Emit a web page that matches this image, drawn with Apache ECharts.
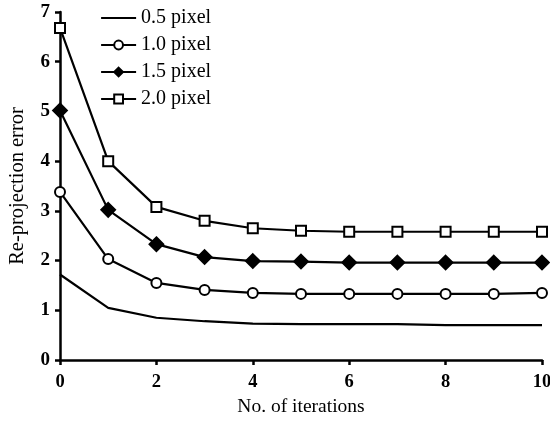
<!DOCTYPE html>
<html>
<head>
<meta charset="utf-8">
<script src="https://cdn.jsdelivr.net/npm/echarts@6/dist/echarts.min.js"></script>
<style>
  html, body { margin: 0; padding: 0; background: #fff; }
  #chart { width: 550px; height: 421px; }
</style>
</head>
<body>
<div id="chart"></div>
<script>
// iterations on the x axis
const iterations = [0, 1, 2, 3, 4, 5, 6, 7, 8, 9, 10];
// re-projection error per noise level
const err05 = [1.72, 1.05, 0.85, 0.78, 0.73, 0.72, 0.72, 0.72, 0.70, 0.70, 0.70];
const err10 = [3.38, 2.03, 1.55, 1.41, 1.35, 1.33, 1.33, 1.33, 1.33, 1.33, 1.35];
const err15 = [5.02, 3.02, 2.33, 2.07, 1.99, 1.98, 1.96, 1.96, 1.96, 1.96, 1.96];
const err20 = [6.68, 4.0, 3.08, 2.8, 2.65, 2.6, 2.58, 2.58, 2.58, 2.58, 2.58];
const legendNames = ["0.5 pixel", "1.0 pixel", "1.5 pixel", "2.0 pixel"];

const font = "Liberation Serif";
const pairs = vals => iterations.map((x, i) => [x, vals[i]]);

function makeSeries(name, vals, symbol, size) {
  return {
    name: name,
    type: "line",
    data: pairs(vals),
    symbol: symbol,
    symbolSize: size,
    showSymbol: symbol !== "none",
    lineStyle: { color: "#000", width: 2.2 },
    itemStyle: { color: "#000", borderColor: "#000", borderWidth: 1.8 },
    emphasis: { disabled: true },
    z: 3
  };
}

const chart = echarts.init(document.getElementById("chart"));
chart.setOption({
  animation: false,
  backgroundColor: "#fff",
  grid: { left: 60, right: 8, top: 12, bottom: 61, outerBoundsMode: "none", containLabel: false },
  legend: {
    orient: "vertical",
    left: 95,
    top: 3,
    itemGap: 7,
    itemWidth: 35,
    itemHeight: 11,
    lineStyle: { width: 2.2, color: "#000" },
    data: [
      { name: legendNames[0], itemStyle: { opacity: 0 } },
      legendNames[1],
      legendNames[2],
      legendNames[3]
    ],
    textStyle: { fontFamily: font, fontSize: 20, color: "#000" }
  },
  xAxis: {
    type: "value",
    min: 0,
    max: 10,
    interval: 2,
    name: "No. of iterations",
    nameLocation: "middle",
    nameGap: 37,
    nameTextStyle: { fontFamily: font, fontSize: 19.5, color: "#000" },
    axisLine: { lineStyle: { color: "#000", width: 2.5 } },
    axisTick: { length: 5, lineStyle: { color: "#000", width: 2.5 } },
    axisLabel: { fontFamily: font, fontSize: 18.5, fontWeight: "bold", color: "#000", margin: 13 },
    splitLine: { show: false }
  },
  yAxis: {
    type: "value",
    min: 0,
    max: 7,
    interval: 1,
    name: "Re-projection error",
    nameLocation: "middle",
    nameGap: 32,
    nameTextStyle: { fontFamily: font, fontSize: 20.5, color: "#000" },
    axisLine: { lineStyle: { color: "#000", width: 2.5 } },
    axisTick: { length: 5, lineStyle: { color: "#000", width: 2.5 } },
    axisLabel: { fontFamily: font, fontSize: 19, fontWeight: "bold", color: "#000", margin: 10 },
    splitLine: { show: false }
  },
  series: [
    makeSeries(legendNames[0], err05, "none", 0),
    makeSeries(legendNames[1], err10, "emptyCircle", 10),
    makeSeries(legendNames[2], err15, "diamond", 14),
    makeSeries(legendNames[3], err20, "emptyRect", 10)
  ]
});
</script>
</body>
</html>
